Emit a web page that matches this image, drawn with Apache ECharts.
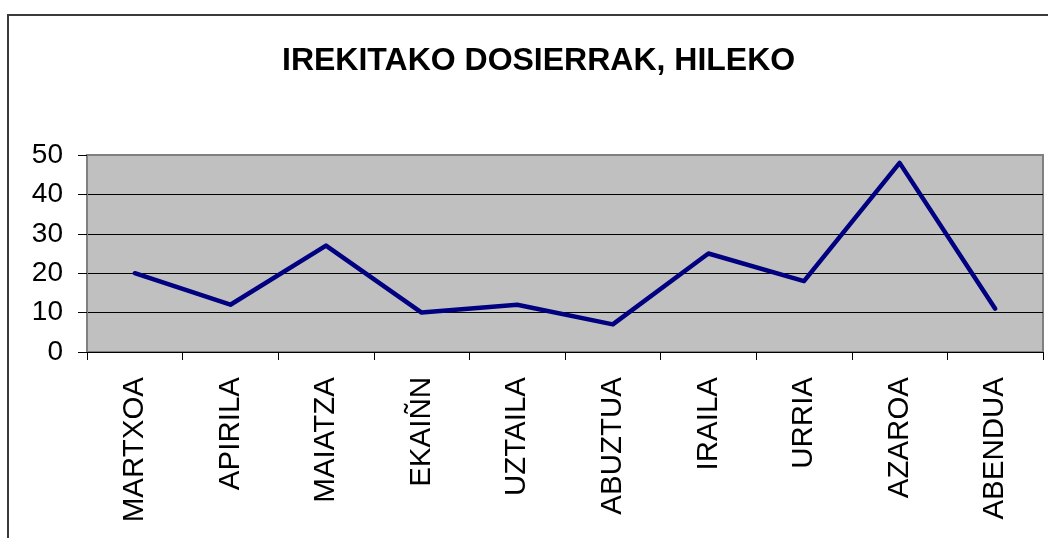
<!DOCTYPE html>
<html>
<head>
<meta charset="utf-8">
<script src="https://cdn.jsdelivr.net/npm/echarts@6/dist/echarts.min.js"></script>
<style>
html,body{margin:0;padding:0;background:#fff;}
#c{width:1048px;height:538px;}
</style>
</head>
<body>
<div id="c"></div>
<script>
var titleText = 'IREKITAKO DOSIERRAK, HILEKO';
var categories = ['MARTXOA','APIRILA','MAIATZA','EKAIÑN','UZTAILA','ABUZTUA','IRAILA','URRIA','AZAROA','ABENDUA'];
var values = [20, 12, 27, 10, 12, 7, 25, 18, 48, 11];
var yTicks = [0, 10, 20, 30, 40, 50];

var chart = echarts.init(document.getElementById('c'), null, {renderer:'canvas'});
chart.setOption({
  backgroundColor: '#ffffff',
  animation: false,
  title: {
    text: titleText,
    left: 277,
    top: 40,
    textStyle: {fontFamily: 'Liberation Sans, Arial, sans-serif', fontSize: 32, fontWeight: 'bold', color: '#000'}
  },
  graphic: [{
    type: 'rect',
    shape: {x: 8, y: 15, width: 1200, height: 700},
    style: {fill: 'none', stroke: '#3a3a3a', lineWidth: 2},
    silent: true, z: -1
  }],
  grid: {
    left: 87, right: 5, top: 155, bottom: 186,
    show: true, backgroundColor: '#c0c0c0', borderColor: '#808080', borderWidth: 2
  },
  xAxis: {
    type: 'category',
    data: categories,
    boundaryGap: true,
    axisLine: {show: true, lineStyle: {color: '#000', width: 1}},
    axisTick: {show: true, alignWithLabel: false, length: 8, lineStyle: {color: '#000'}},
    axisLabel: {rotate: 90, margin: 25, fontFamily: 'Liberation Sans, Arial, sans-serif', fontSize: 29.5, color: '#000', interval: 0},
    splitLine: {show: false}
  },
  yAxis: {
    type: 'value',
    min: yTicks[0], max: yTicks[yTicks.length-1], interval: 10,
    axisLine: {show: true, lineStyle: {color: '#808080', width: 2}},
    axisTick: {show: true, length: 9, lineStyle: {color: '#000'}},
    axisLabel: {margin: 24, fontFamily: 'Liberation Sans, Arial, sans-serif', fontSize: 28, color: '#000'},
    splitLine: {show: true, showMinLine: false, showMaxLine: false, lineStyle: {color: '#000', width: 1}}
  },
  series: [{
    type: 'line',
    data: values,
    showSymbol: false,
    symbol: 'none',
    lineStyle: {color: '#000080', width: 4.5, cap: 'round', join: 'round'},
    itemStyle: {color: '#000080'}
  }]
});
</script>
</body>
</html>
